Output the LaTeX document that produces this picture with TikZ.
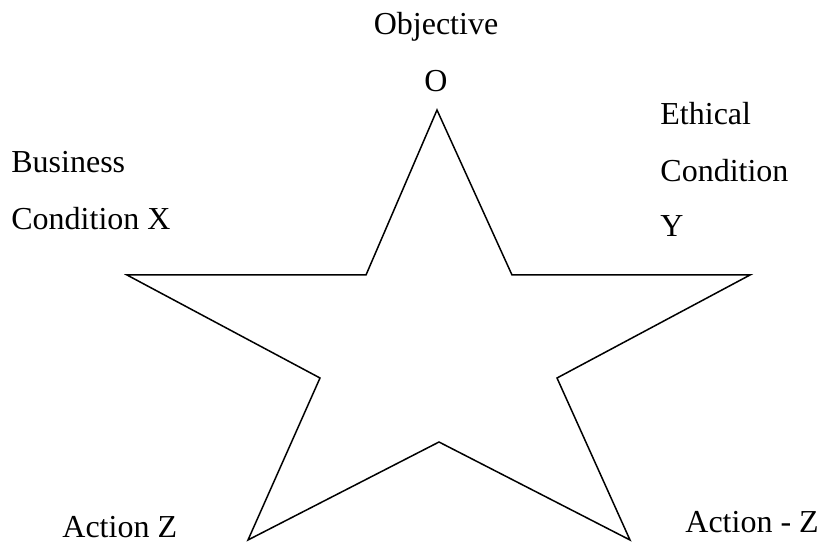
\documentclass[tikz,border=0pt]{standalone}
\usepackage{fontspec}
\setmainfont{Liberation Serif}
\usetikzlibrary{positioning}

\begin{document}
\begin{tikzpicture}[
  x=0.5pt,y=-0.5pt,
  font=\fontsize{16}{19}\selectfont,
  lbl/.style={anchor=base west, inner sep=0pt},
  clbl/.style={anchor=base, inner sep=0pt},
  starline/.style={draw=black, line width=0.75pt, line join=miter}
]
\useasboundingbox (0,0) rectangle (818,544);

% Star points
\coordinate (top) at (437,110);
\coordinate (iur) at (512,275);
\coordinate (rt)  at (750,275);
\coordinate (ilr) at (557,378);
\coordinate (br)  at (630,540);
\coordinate (ibt) at (439,442);
\coordinate (bl)  at (248,540);
\coordinate (ill) at (320,378);
\coordinate (lt)  at (127,275);
\coordinate (iul) at (366,275);

\draw[starline] (top) -- (iur) -- (rt) -- (ilr) -- (br) -- (ibt)
  -- (bl) -- (ill) -- (lt) -- (iul) -- cycle;

% Labels
\node[clbl] (obj) at (436,35) {Objective};
\node[clbl] (objO) at (436,92) {O};

\node[lbl] (eth1) at (660,125) {Ethical};
\node[lbl] (eth2) at (660,182) {Condition};
\node[lbl] (eth3) at (660,237) {Y};

\node[lbl] (bus1) at (11,173) {Business};
\node[lbl] (bus2) at (11,230) {Condition X};

\node[lbl] (actz) at (62,537) {Action Z};
\node[lbl] (actnz) at (685,532) {Action - Z};
\end{tikzpicture}
\end{document}
